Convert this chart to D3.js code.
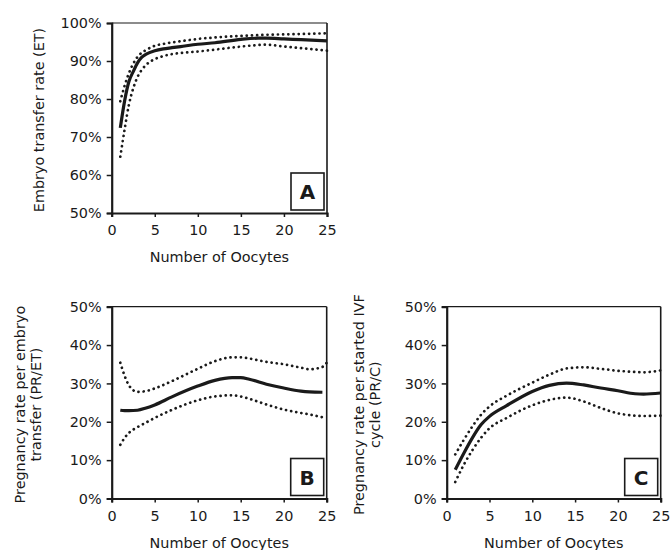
<!DOCTYPE html>
<html><head><meta charset="utf-8">
<script src="https://cdn.jsdelivr.net/npm/d3@7"></script>
<style>
html,body{margin:0;padding:0;background:#fff;}
svg{display:block;font-family:"DejaVu Sans",Verdana,sans-serif;}
</style></head>
<body><svg id="chart" width="670" height="550"></svg>
<script>
// ---------- data ----------
const xTicks = [0, 5, 10, 15, 20, 25];
const xTitle = "Number of Oocytes";

// Panel A: Embryo transfer rate
const oocytesA = [1, 1.5, 2, 2.5, 3, 3.5, 4, 5, 6, 7, 8, 10, 12, 15, 17, 18, 20, 22, 25];
const etRate   = [72.4, 79.5, 84.6, 87.2, 89.5, 91.0, 91.8, 92.7, 93.2, 93.5, 93.8, 94.4, 94.8, 95.7, 96.0, 96.0, 95.8, 95.6, 95.3];
const etUpper  = [79.4, 83.5, 86.8, 89.3, 91.1, 92.2, 92.9, 94.0, 94.5, 94.9, 95.2, 95.8, 96.2, 96.6, 96.8, 96.9, 97.0, 97.1, 97.3];
const etLower  = [64.8, 72.0, 78.5, 82.8, 85.8, 87.7, 89.0, 90.5, 91.3, 91.8, 92.1, 92.5, 93.0, 93.8, 94.2, 94.3, 93.8, 93.4, 92.7];
const yTicksA  = [50, 60, 70, 80, 90, 100];

// Panel B: Pregnancy rate per embryo transfer
const oocytesB = [1, 1.5, 2, 3, 4, 5, 7, 10, 12, 14, 15, 16, 18, 20, 22, 23, 24.5, 25];
const prEt     = [23.0, 22.9, 22.9, 23.0, 23.6, 24.4, 26.5, 29.3, 30.8, 31.5, 31.5, 31.1, 29.8, 28.8, 28.0, 27.8, 27.7, null];
const prEtUp   = [35.4, 32.0, 29.5, 27.8, 28.0, 28.7, 30.6, 33.8, 35.8, 36.8, 36.8, 36.5, 35.6, 35.0, 34.1, 33.7, 34.3, 35.4];
const prEtLow  = [14.0, 15.8, 17.1, 18.6, 19.8, 21.0, 23.1, 25.6, 26.6, 26.9, 26.6, 26.0, 24.5, 23.2, 22.3, 21.9, 21.2, 21.0];

// Panel C: Pregnancy rate per started IVF cycle
const oocytesC = [1, 2, 3, 4, 5, 7, 10, 12, 14, 16, 18, 20, 22, 23, 25];
const prC      = [7.5, 11.8, 15.8, 19.2, 21.4, 24.2, 27.9, 29.5, 30.1, 29.6, 28.8, 28.1, 27.3, 27.2, 27.5];
const prCUp    = [11.5, 15.3, 18.8, 21.8, 24.0, 26.8, 30.2, 32.3, 33.9, 34.2, 33.8, 33.3, 33.0, 32.9, 33.4];
const prCLow   = [4.3, 8.8, 12.6, 15.8, 18.3, 21.0, 24.3, 25.7, 26.3, 25.3, 23.6, 22.2, 21.6, 21.5, 21.6];
const yTicksBC = [0, 10, 20, 30, 40, 50];

const panels = [
  {label:"A", x:oocytesA, mid:etRate, up:etUpper, low:etLower, yTicks:yTicksA,
   yTitle:["Embryo transfer rate (ET)"],
   box:{l:111.7, r:327, t:23, b:213}, titleX:[44]},
  {label:"B", x:oocytesB, mid:prEt, up:prEtUp, low:prEtLow, yTicks:yTicksBC,
   yTitle:["Pregnancy rate per embryo","transfer (PR/ET)"],
   box:{l:111.7, r:326.7, t:306.7, b:498.5}, titleX:[25,41]},
  {label:"C", x:oocytesC, mid:prC, up:prCUp, low:prCLow, yTicks:yTicksBC,
   yTitle:["Pregnancy rate per started IVF","cycle (PR/C)"],
   box:{l:446.7, r:660.7, t:306.7, b:498.5}, titleX:[364,380]}
];

const svg = d3.select("#chart");
const ink = "#1a1a1a";
const fs = "14.4px";

panels.forEach(p => {
  const b = p.box;
  const x = d3.scaleLinear().domain([0, 25]).range([b.l, b.r]);
  const y = d3.scaleLinear().domain([p.yTicks[0], p.yTicks[p.yTicks.length-1]]).range([b.b, b.t]);
  const g = svg.append("g");

  // frame (top/right thin)
  g.append("line").attr("x1", b.l).attr("x2", b.r).attr("y1", b.t).attr("y2", b.t)
    .attr("stroke", ink).attr("stroke-width", 1.2);
  g.append("line").attr("x1", b.r).attr("x2", b.r).attr("y1", b.t).attr("y2", b.b)
    .attr("stroke", ink).attr("stroke-width", 1.6);

  // y axis
  const ya = g.append("g").attr("transform", `translate(${b.l},0)`)
    .call(d3.axisLeft(y).tickValues(p.yTicks).tickFormat(d => d + "%").tickSize(5).tickPadding(5));
  // x axis
  const xa = g.append("g").attr("transform", `translate(0,${b.b})`)
    .call(d3.axisBottom(x).tickValues(xTicks).tickSize(4).tickPadding(8));
  [ya, xa].forEach(a => {
    a.select(".domain").attr("stroke", ink).attr("stroke-width", 2.2);
    a.selectAll(".tick line").attr("stroke", ink).attr("stroke-width", 1.5);
    a.selectAll("text").attr("fill", ink).style("font-size", fs)
      .style("font-family", '"DejaVu Sans",Verdana,sans-serif');
  });

  // x title
  g.append("text").attr("x", (b.l + b.r) / 2).attr("y", b.b + 49)
    .attr("text-anchor", "middle").attr("fill", ink).style("font-size", fs).text(xTitle);

  // y title
  const cy = (b.t + b.b) / 2 + 2;
  p.yTitle.forEach((t, i) => {
    g.append("text").attr("transform", `translate(${p.titleX[i]},${cy}) rotate(-90)`)
      .attr("text-anchor", "middle").attr("fill", ink).style("font-size", fs).text(t);
  });

  // lines
  const mk = vals => d3.line()
    .defined((d, i) => vals[i] != null)
    .x((d, i) => x(p.x[i])).y((d, i) => y(vals[i]))
    .curve(d3.curveMonotoneX)(p.x);

  [p.up, p.low].forEach(vals => {
    g.append("path").attr("d", mk(vals)).attr("fill", "none").attr("stroke", ink)
      .attr("stroke-width", 2.7).attr("stroke-linecap", "round").attr("stroke-dasharray", "0.1 5.1");
  });
  g.append("path").attr("d", mk(p.mid)).attr("fill", "none").attr("stroke", ink)
    .attr("stroke-width", 3.2).attr("stroke-linejoin", "round");

  // label box
  const bw = 33, bh = 37;
  g.append("rect").attr("x", b.r - 3 - bw).attr("y", b.b - 3 - bh).attr("width", bw).attr("height", bh)
    .attr("fill", "#fff").attr("stroke", ink).attr("stroke-width", 1.6);
  g.append("text").attr("x", b.r - 3 - bw / 2).attr("y", b.b - 3 - bh / 2 + 7.5)
    .attr("text-anchor", "middle").attr("fill", ink).style("font-size", "20px").style("font-weight", "bold")
    .text(p.label);
});
</script>
</body></html>
